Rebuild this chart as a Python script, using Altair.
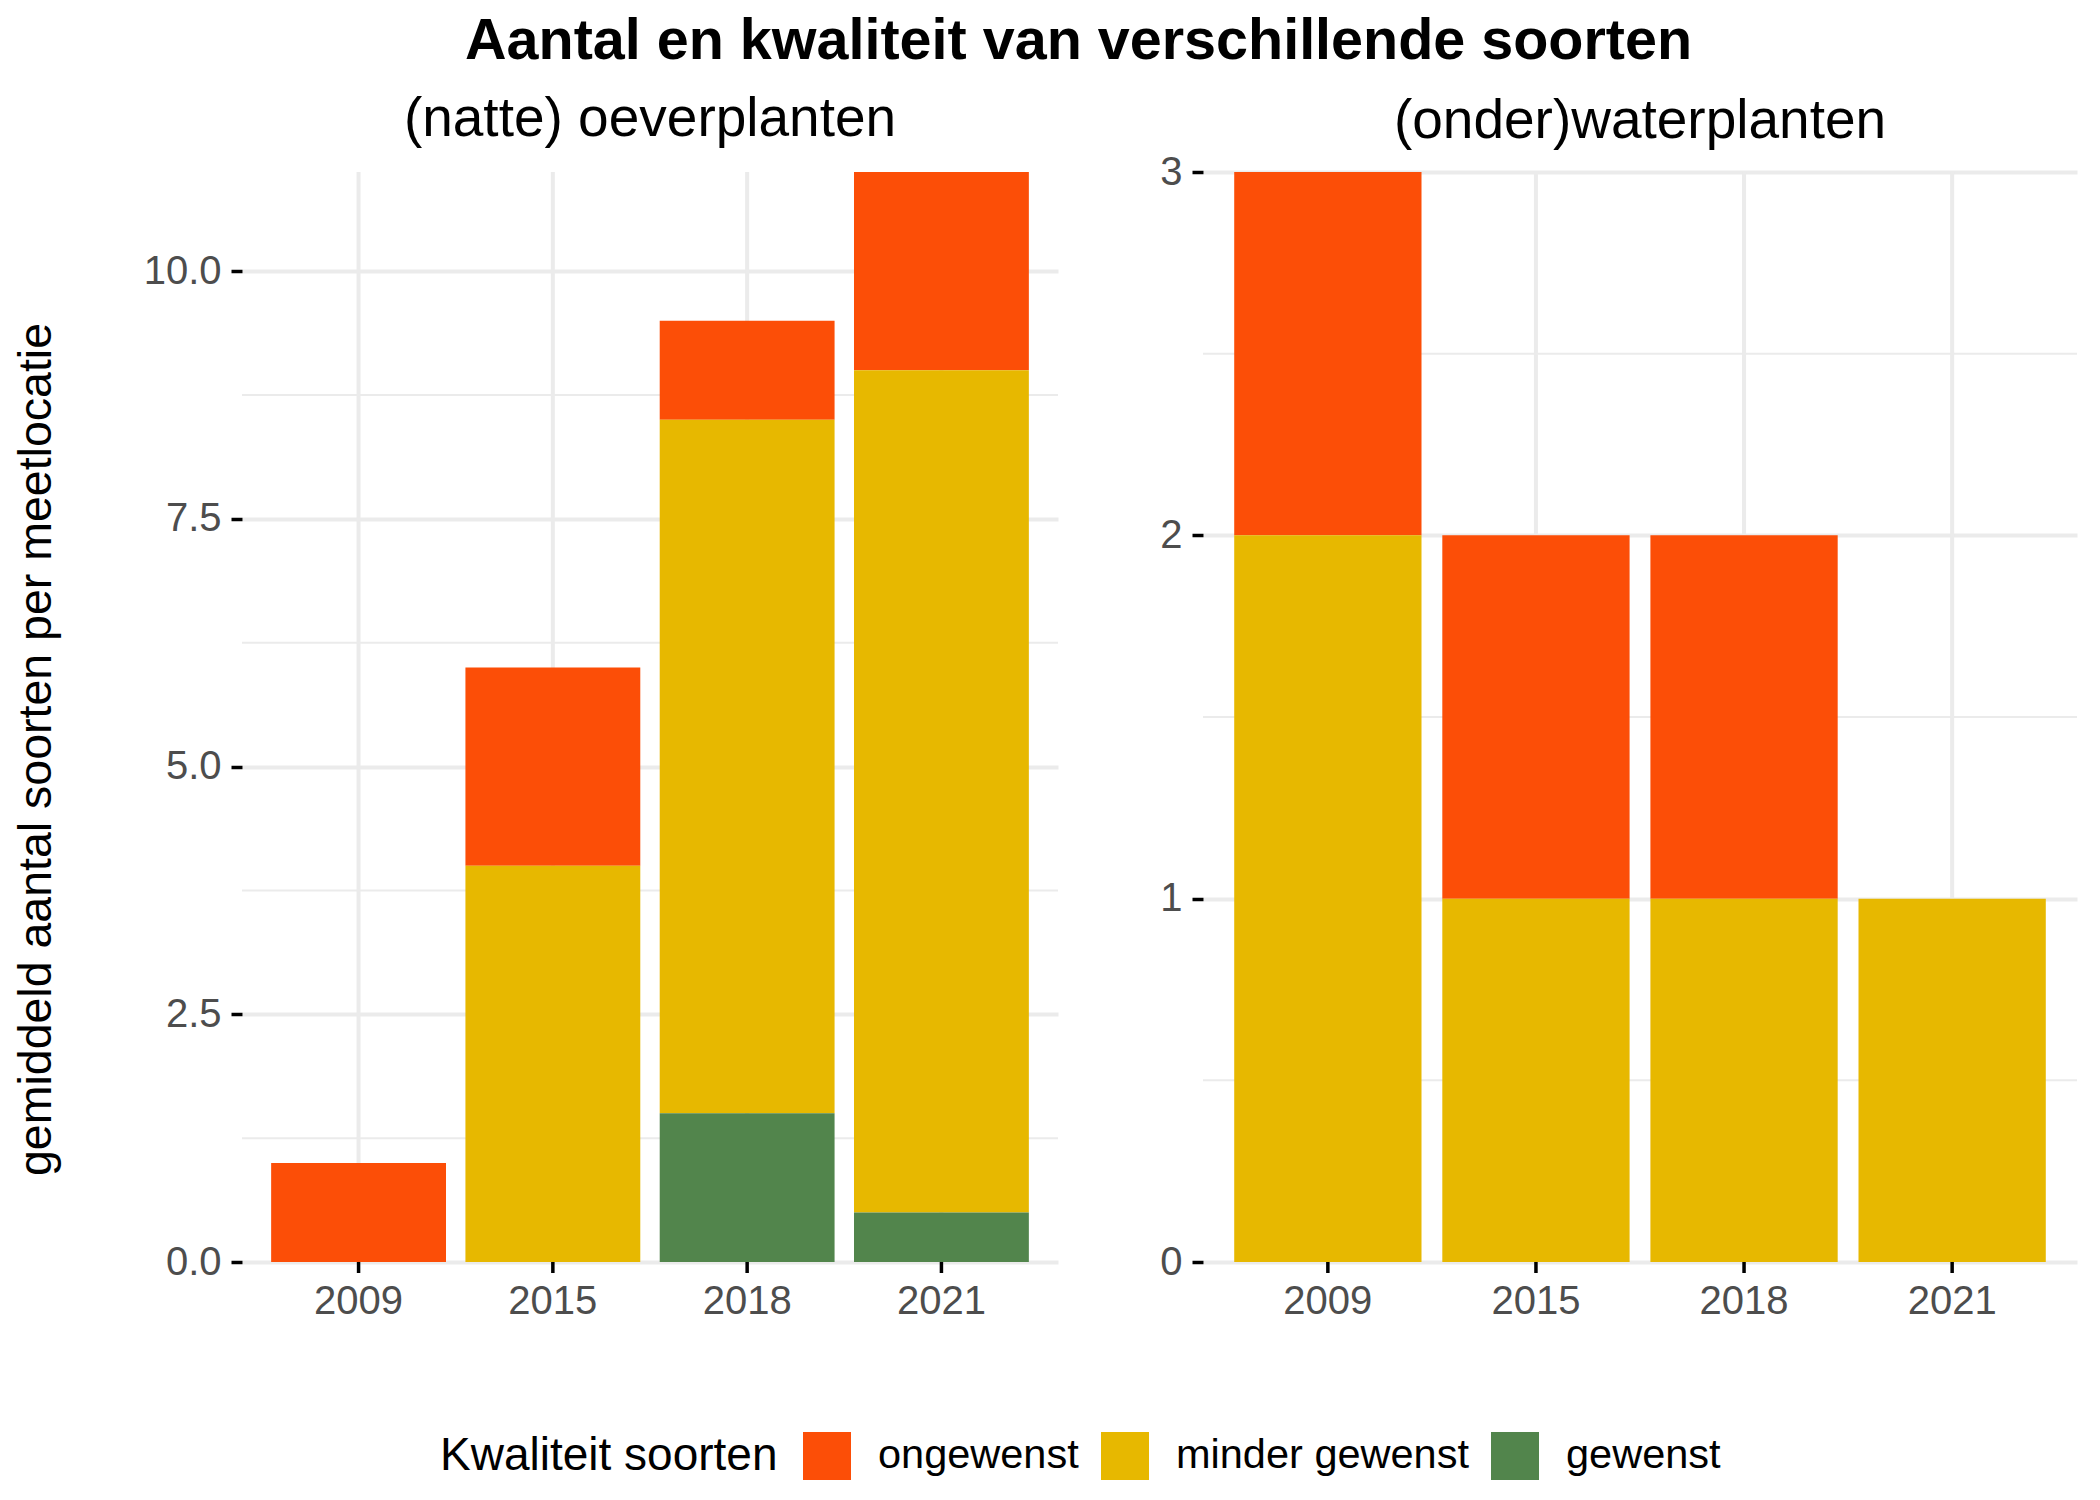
import altair as alt
import pandas as pd

# ---- data ----
years = ["2009", "2015", "2018", "2021"]
kwaliteit = ["ongewenst", "minder gewenst", "gewenst"]
kleuren = ["#FC4E07", "#E7B800", "#52854C"]
stapel = [2, 1, 0]  # gewenst at the bottom of the stack

oever_ongewenst = [1.0, 2.0, 1.0, 2.0]
oever_minder = [0.0, 4.0, 7.0, 8.5]
oever_gewenst = [0.0, 0.0, 1.5, 0.5]

water_ongewenst = [1.0, 1.0, 1.0, 0.0]
water_minder = [2.0, 1.0, 1.0, 1.0]
water_gewenst = [0.0, 0.0, 0.0, 0.0]

oever_major = [0, 2.5, 5, 7.5, 10]
oever_minor = [1.25, 3.75, 6.25, 8.75]
water_major = [0, 1, 2, 3]
water_minor = [0.5, 1.5, 2.5]

FONT = "Liberation Sans"


def long_df(ong, mind, gew):
    rows = []
    for i, y in enumerate(years):
        for k, vals, r in zip(kwaliteit, [ong, mind, gew], stapel):
            if vals[i] > 0:
                rows.append({"jaar": y, "kwaliteit": k, "aantal": vals[i], "volgorde": r})
    return pd.DataFrame(rows)


legend = alt.Legend(
    orient="none", legendX=198, legendY=1260, direction="horizontal",
    title="Kwaliteit soorten", titleOrient="left", titleFont=FONT, titleFontSize=46,
    titleFontWeight="normal", titleColor="black", titlePadding=25,
    titleAnchor="middle", titleBaseline="middle", titleLimit=1000,
    labelFont=FONT, labelFontSize=41.5, labelColor="black", labelOffset=27,
    labelLimit=1000, columnPadding=22, symbolType="square", symbolSize=2304,
    symbolStrokeWidth=0, symbolOpacity=1,
)


def panel(df, ymax, major, minor, fmt, subtitle, width, ytitle, sub_offset, title_y):
    yscale = alt.Scale(domain=[0, ymax], nice=False, zero=True)
    xscale = alt.Scale(domain=years, paddingInner=0.1, paddingOuter=0.15)
    axis_kwargs = dict(
        values=major, format=fmt, grid=True, gridColor="#EBEBEB", gridWidth=4,
        domain=False, ticks=True, tickColor="black", tickSize=11, tickWidth=3.5,
        labelFont=FONT, labelFontSize=40, labelColor="#4D4D4D", labelPadding=10,
    )
    ytitle_val = ytitle if ytitle else None
    if ytitle:
        axis_kwargs.update(title=ytitle, titleFont=FONT, titleFontSize=46.5,
                           titleFontWeight="normal", titleColor="black",
                           titlePadding=83, titleY=title_y)
    else:
        axis_kwargs.update(title=None)
    yaxis = alt.Axis(**axis_kwargs)
    xaxis = alt.Axis(title=None, labelAngle=0, domain=False, ticks=False, grid=False,
                     labelFont=FONT, labelFontSize=40, labelColor="#4D4D4D",
                     labelPadding=19)

    grid_minor = alt.Chart(pd.DataFrame({"v": minor})).mark_rule(
        color="#EBEBEB", strokeWidth=2
    ).encode(y=alt.Y("v:Q", scale=yscale, axis=yaxis, title=ytitle_val))

    jaar_df = pd.DataFrame({"jaar": years})
    grid_x = alt.Chart(jaar_df).mark_rule(
        color="#EBEBEB", strokeWidth=4
    ).encode(x=alt.X("jaar:N", sort=years, scale=xscale, axis=xaxis))

    # x-axis tick marks: from the zero baseline, 11 px downward
    x_ticks = alt.Chart(jaar_df).mark_rule(
        color="black", strokeWidth=3.5, y2Offset=11
    ).encode(
        x=alt.X("jaar:N", sort=years, scale=xscale, axis=xaxis),
        y=alt.YDatum(0, type="quantitative", scale=yscale, axis=yaxis, title=ytitle_val),
        y2=alt.Y2Datum(0),
    )

    bars = alt.Chart(df).mark_bar().encode(
        x=alt.X("jaar:N", sort=years, scale=xscale, axis=xaxis),
        y=alt.Y("aantal:Q", stack="zero", scale=yscale, axis=yaxis, title=ytitle_val),
        color=alt.Color("kwaliteit:N",
                        scale=alt.Scale(domain=kwaliteit, range=kleuren),
                        legend=legend),
        order=alt.Order("volgorde:Q", sort="ascending"),
    )
    return alt.layer(grid_minor, grid_x, bars, x_ticks).properties(
        width=width, height=1090,
        title=alt.TitleParams(subtitle, font=FONT, fontSize=55, fontWeight="normal",
                              color="black", anchor="middle", baseline="alphabetic",
                              offset=sub_offset),
    )


left = panel(long_df(oever_ongewenst, oever_minder, oever_gewenst), 11,
             oever_major, oever_minor, ".1f", "(natte) oeverplanten", 816,
             "gemiddeld aantal soorten per meetlocatie", -21, 577)
right = panel(long_df(water_ongewenst, water_minder, water_gewenst), 3,
              water_major, water_minor, "d", "(onder)waterplanten", 874,
              None, -41, 0)

chart = alt.hconcat(left, right, spacing=100).resolve_scale(
    y="independent", color="shared"
).properties(
    title=alt.TitleParams("Aantal en kwaliteit van verschillende soorten",
                          font=FONT, fontSize=57.5, fontWeight="bold", color="black",
                          anchor="middle", baseline="alphabetic", offset=-24, dx=33),
    padding={"left": 5, "top": 4, "right": 10, "bottom": 10},
    background="white",
).configure_view(stroke=None)

chart.save("out.html", embed_options={"renderer": "svg", "actions": False})
